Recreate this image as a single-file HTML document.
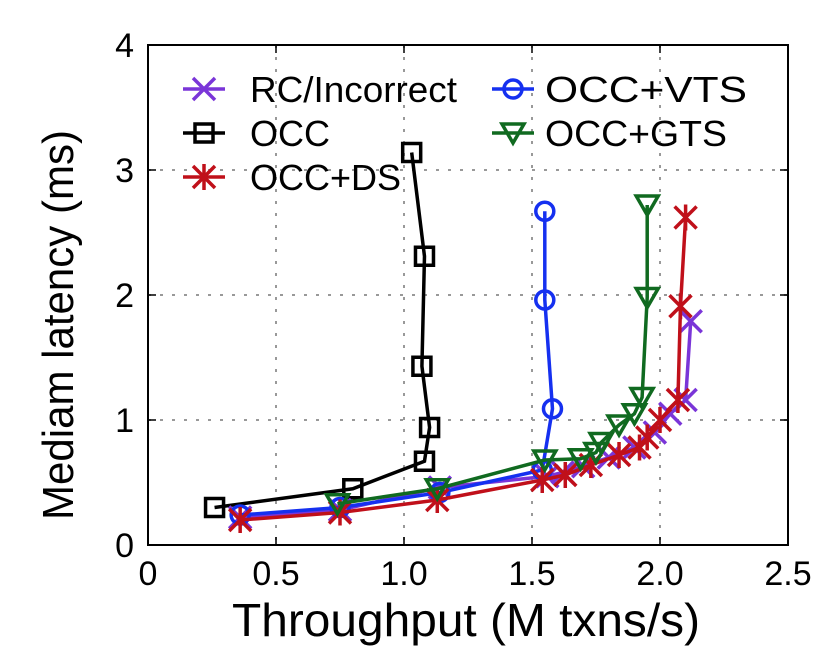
<!DOCTYPE html>
<html><head><meta charset="utf-8"><style>
body{margin:0;background:#fff;}
svg{display:block;font-family:"Liberation Sans",sans-serif;}
</style></head><body>
<svg id="c" width="838" height="666"></svg>
<script>
const xTicks=[0,0.5,1.0,1.5,2.0,2.5];
const xTickLabels=["0","0.5","1.0","1.5","2.0","2.5"];
const yTicks=[0,1,2,3,4];
const yTickLabels=["0","1","2","3","4"];
const occX=[0.26,0.80,1.08,1.10,1.07,1.08,1.03];
const occY=[0.30,0.45,0.67,0.94,1.43,2.31,3.14];
const vtsX=[0.36,0.75,1.14,1.54,1.58,1.55,1.55];
const vtsY=[0.24,0.30,0.42,0.60,1.09,1.96,2.67];
const gtsX=[0.74,1.13,1.55,1.69,1.75,1.77,1.84,1.90,1.93,1.95,1.95];
const gtsY=[0.33,0.45,0.68,0.69,0.74,0.82,0.96,1.05,1.18,1.98,2.72];
const dsX=[0.36,0.75,1.13,1.54,1.63,1.73,1.84,1.92,1.95,2.00,2.07,2.08,2.10];
const dsY=[0.20,0.26,0.36,0.52,0.56,0.64,0.72,0.78,0.86,1.00,1.16,1.91,2.62];
const rcX=[0.36,0.75,1.14,1.56,1.62,1.70,1.80,1.90,1.98,2.04,2.10,2.12];
const rcY=[0.22,0.28,0.46,0.55,0.58,0.63,0.70,0.78,0.90,1.05,1.16,1.79];

const L=148,R=788,T=45,B=545;
const sx=v=>L+(v-0)/2.5*(R-L);
const sy=v=>B-(v/4)*(B-T);
const svg=document.getElementById('c');
const NS='http://www.w3.org/2000/svg';
function mk(tag,attrs,parent){const e=document.createElementNS(NS,tag);for(const k in attrs)e.setAttribute(k,attrs[k]);(parent||svg).appendChild(e);return e;}

xTicks.forEach((t,i)=>{
  if(i>0&&i<xTicks.length-1){const g=mk('line',{x1:sx(t),x2:sx(t),y1:T,y2:B,stroke:'#999','stroke-width':2,'stroke-dasharray':'3,9'});
  
  }
  const tk=mk('line',{x1:sx(t),x2:sx(t),y1:B,y2:B-8,stroke:'#000','stroke-width':1.5});
  
  
  const tk2=mk('line',{x1:sx(t),x2:sx(t),y1:T,y2:T+8,stroke:'#000','stroke-width':1.5});
  
  
  const tx=mk('text',{x:sx(t),y:585,'font-size':34,'text-anchor':'middle'});tx.textContent=xTickLabels[i];
  
  
});
yTicks.forEach((t,i)=>{
  if(i>0&&i<yTicks.length-1){const g=mk('line',{x1:L,x2:R,y1:sy(t),y2:sy(t),stroke:'#999','stroke-width':2,'stroke-dasharray':'3,9'});
  
  }
  const tk=mk('line',{x1:L,x2:L+8,y1:sy(t),y2:sy(t),stroke:'#000','stroke-width':1.5});
  
  
  const tk2=mk('line',{x1:R,x2:R-8,y1:sy(t),y2:sy(t),stroke:'#000','stroke-width':1.5});
  
  
  const tx=mk('text',{x:134,y:sy(t)+12,'font-size':34,'text-anchor':'end'});tx.textContent=yTickLabels[i];
  
  
});
const fr=mk('rect',{x:L,y:T,width:R-L,height:B-T,fill:'none',stroke:'#000','stroke-width':2});



const xt=mk('text',{x:466,y:636,'font-size':46,'text-anchor':'middle',textLength:468,lengthAdjust:'spacingAndGlyphs'});xt.textContent='Throughput (M txns/s)';


const yt=mk('text',{x:0,y:0,'font-size':44,'text-anchor':'middle',textLength:390,lengthAdjust:'spacingAndGlyphs',transform:'translate(73,325) rotate(-90)'});yt.textContent='Mediam latency (ms)';



function marker(type,x,y,col,g){
  const s=11,w=3.5;
  if(type==='x'){mk('path',{d:`M${x-s},${y-s}L${x+s},${y+s}M${x-s},${y+s}L${x+s},${y-s}`,stroke:col,'stroke-width':w,fill:'none'},g);}
  else if(type==='star'){mk('path',{d:`M${x-s},${y-s}L${x+s},${y+s}M${x-s},${y+s}L${x+s},${y-s}M${x},${y-s-2}L${x},${y+s+2}`,stroke:col,'stroke-width':w,fill:'none'},g);}
  else if(type==='sq'){mk('rect',{x:x-9,y:y-9,width:18,height:18,stroke:col,'stroke-width':w,fill:'none'},g);}
  else if(type==='o'){mk('circle',{cx:x,cy:y,r:9,stroke:col,'stroke-width':w,fill:'none'},g);}
  else if(type==='tri'){mk('path',{d:`M${x-11},${y-9}L${x+11},${y-9}L${x},${y+10}Z`,stroke:col,'stroke-width':w,fill:'none'},g);}
}
function series(name,xs,ys,col,type){
  const g=mk('g',{});
  
  
  mk('polyline',{points:xs.map((v,i)=>sx(v)+','+sy(ys[i])).join(' '),fill:'none',stroke:col,'stroke-width':3.5},g);
  xs.forEach((v,i)=>marker(type,sx(v),sy(ys[i]),col,g));
}
series('series-occ',occX,occY,'#000','sq');
series('series-rc-incorrect',rcX,rcY,'#7a35d8','x');
series('series-occ-vts',vtsX,vtsY,'#1530f0','o');
series('series-occ-ds',dsX,dsY,'#c0101a','star');
series('series-occ-gts',gtsX,gtsY,'#106a20','tri');

function legend(name,label,col,type,x,y,tx,tl){
  const g=mk('g',{});
  
  
  mk('line',{x1:x,x2:x+42,y1:y,y2:y,stroke:col,'stroke-width':3.5},g);
  marker(type,x+21,y,col,g);
  const a={x:tx,y:y+13,'font-size':36};
  if(tl){a.textLength=tl;a.lengthAdjust='spacingAndGlyphs';}
  const t=mk('text',a,g);t.textContent=label;
}
legend('legend-rc-incorrect','RC/Incorrect','#7a35d8','x',183,89,250,207);
legend('legend-occ','OCC','#000','sq',183,133,250,0);
legend('legend-occ-ds','OCC+DS','#c0101a','star',183,177,250,0);
legend('legend-occ-vts','OCC+VTS','#1530f0','o',492,89,545,202);
legend('legend-occ-gts','OCC+GTS','#106a20','tri',492,133,545,182);
</script>
</body></html>
